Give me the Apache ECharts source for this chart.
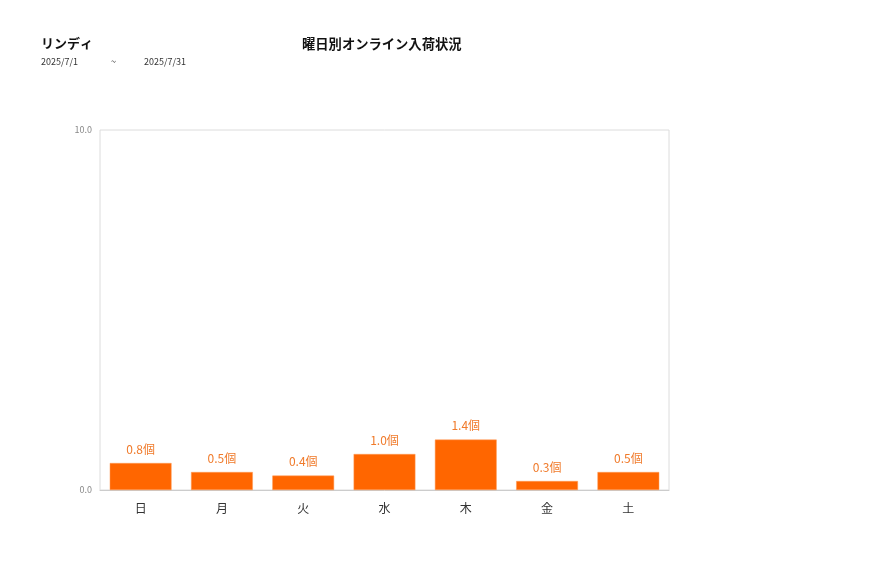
<!DOCTYPE html>
<html>
  <head>
    <meta charset="utf-8" />
    <title>曜日別オンライン入荷状況</title>
    <script src="https://cdn.jsdelivr.net/npm/echarts@6/dist/echarts.min.js"></script>
    <style>
      html,
      body,
      #main {
        padding: 0;
        margin: 0;
        width: 877px;
        height: 578px;
        background: #fff;
      }
    </style>
  </head>
  <body>
    <div id="main"></div>
    <script>
      var days = ["日", "月", "火", "水", "木", "金", "土"];
      var values = [0.75, 0.5, 0.4, 1.0, 1.4, 0.25, 0.5];
      var yTicks = [0, 10];

      var font = "'Noto Sans CJK JP', 'Noto Sans', sans-serif";
      var chart = echarts.init(document.getElementById("main"));

      var option = {
        animation: false,
        textStyle: { fontFamily: font },
        title: [
          {
            text: "リンディ",
            left: 36,
            top: 32,
            textStyle: { fontSize: 13, fontWeight: "bold", color: "#111", fontFamily: font }
          },
          {
            text: "曜日別オンライン入荷状況",
            left: 297,
            top: 32,
            textStyle: { fontSize: 13.3, fontWeight: "bold", color: "#111", fontFamily: font }
          }
        ],
        graphic: [
          { type: "text", left: 41, top: 57, style: { text: "2025/7/1", fontSize: 9, fill: "#333", fontFamily: font } },
          { type: "text", left: 111, top: 57, style: { text: "~", fontSize: 9, fill: "#333", fontFamily: font } },
          { type: "text", left: 144, top: 57, style: { text: "2025/7/31", fontSize: 9, fill: "#333", fontFamily: font } }
        ],
        grid: {
          left: 100,
          right: 208,
          top: 130,
          bottom: 88,
          show: true,
          borderColor: "#dcdcdc",
          borderWidth: 1
        },
        xAxis: {
          type: "category",
          data: days,
          axisLine: { lineStyle: { color: "#ccc" } },
          axisTick: { show: false },
          axisLabel: { fontSize: 12, color: "#333", margin: 12 }
        },
        yAxis: {
          type: "value",
          min: yTicks[0],
          max: yTicks[yTicks.length - 1],
          interval: 10,
          splitLine: { show: false },
          axisLine: { show: false },
          axisTick: { show: false },
          axisLabel: {
            fontSize: 9,
            color: "#888",
            margin: 8,
            formatter: function (v) { return v.toFixed(1); }
          }
        },
        series: [
          {
            type: "bar",
            data: values,
            barWidth: "76%",
            itemStyle: { color: "#ff6600", borderColor: "#ff9a55", borderWidth: 0.5 },
            label: {
              show: true,
              position: "top",
              distance: 8,
              fontSize: 12,
              color: "#f07a2a",
              formatter: function (p) { return p.value.toFixed(1) + "個"; }
            }
          }
        ]
      };

      chart.setOption(option);
    </script>
  </body>
</html>
